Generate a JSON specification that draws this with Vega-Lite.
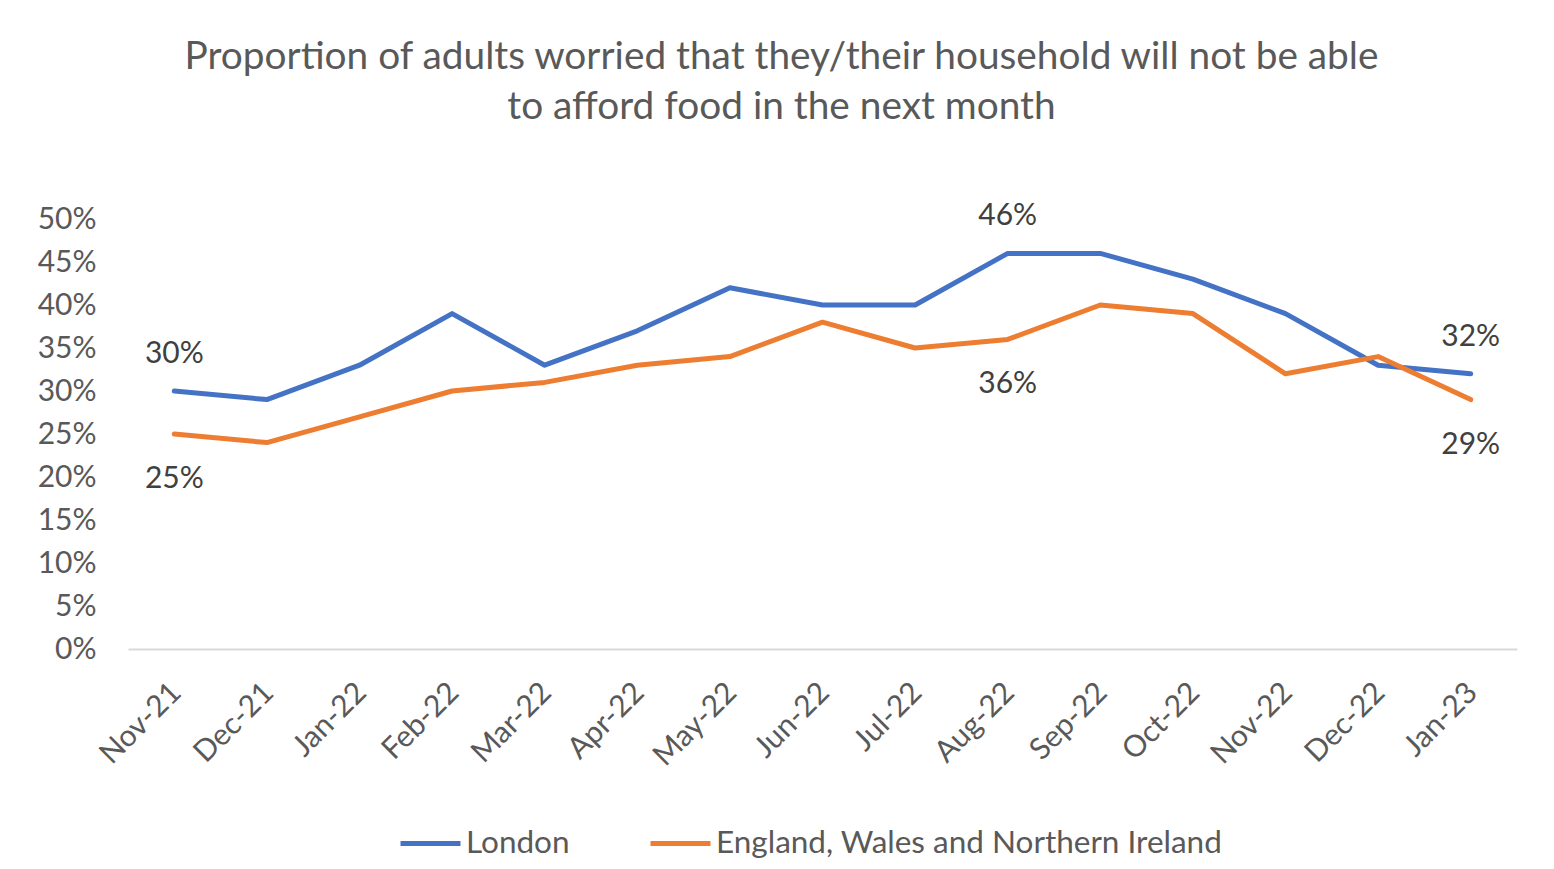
{
  "$schema": "https://vega.github.io/schema/vega-lite/v6.json",
  "autosize": {"type": "none"},
  "padding": {"left": 128, "top": 219, "right": 37, "bottom": 220},
  "width": 1389,
  "height": 430,
  "background": "white",
  "config": {
    "font": "Lato",
    "view": {"stroke": null},
    "axis": {"labelFont": "Lato", "labelColor": "#595959", "labelFontSize": 30, "grid": false, "ticks": false, "title": null}
  },
  "title": {
    "text": ["Proportion of adults worried that they/their household will not be able", "to afford food in the next month"],
    "font": "Lato",
    "fontSize": 38.8,
    "fontWeight": "normal",
    "color": "#595959",
    "lineHeight": 50,
    "anchor": "middle",
    "dx": -41,
    "offset": 75
  },
  "data": {
    "values": [
      {"month": "Nov-21", "series": "London", "value": 0.30},
      {"month": "Dec-21", "series": "London", "value": 0.29},
      {"month": "Jan-22", "series": "London", "value": 0.33},
      {"month": "Feb-22", "series": "London", "value": 0.39},
      {"month": "Mar-22", "series": "London", "value": 0.33},
      {"month": "Apr-22", "series": "London", "value": 0.37},
      {"month": "May-22", "series": "London", "value": 0.42},
      {"month": "Jun-22", "series": "London", "value": 0.40},
      {"month": "Jul-22", "series": "London", "value": 0.40},
      {"month": "Aug-22", "series": "London", "value": 0.46},
      {"month": "Sep-22", "series": "London", "value": 0.46},
      {"month": "Oct-22", "series": "London", "value": 0.43},
      {"month": "Nov-22", "series": "London", "value": 0.39},
      {"month": "Dec-22", "series": "London", "value": 0.33},
      {"month": "Jan-23", "series": "London", "value": 0.32},
      {"month": "Nov-21", "series": "England, Wales and Northern Ireland", "value": 0.25},
      {"month": "Dec-21", "series": "England, Wales and Northern Ireland", "value": 0.24},
      {"month": "Jan-22", "series": "England, Wales and Northern Ireland", "value": 0.27},
      {"month": "Feb-22", "series": "England, Wales and Northern Ireland", "value": 0.30},
      {"month": "Mar-22", "series": "England, Wales and Northern Ireland", "value": 0.31},
      {"month": "Apr-22", "series": "England, Wales and Northern Ireland", "value": 0.33},
      {"month": "May-22", "series": "England, Wales and Northern Ireland", "value": 0.34},
      {"month": "Jun-22", "series": "England, Wales and Northern Ireland", "value": 0.38},
      {"month": "Jul-22", "series": "England, Wales and Northern Ireland", "value": 0.35},
      {"month": "Aug-22", "series": "England, Wales and Northern Ireland", "value": 0.36},
      {"month": "Sep-22", "series": "England, Wales and Northern Ireland", "value": 0.40},
      {"month": "Oct-22", "series": "England, Wales and Northern Ireland", "value": 0.39},
      {"month": "Nov-22", "series": "England, Wales and Northern Ireland", "value": 0.32},
      {"month": "Dec-22", "series": "England, Wales and Northern Ireland", "value": 0.34},
      {"month": "Jan-23", "series": "England, Wales and Northern Ireland", "value": 0.29}
    ]
  },
  "encoding": {
    "x": {
      "field": "month", "type": "ordinal", "sort": null,
      "scale": {"paddingInner": 0, "paddingOuter": 0.5},
      "axis": {"labelAngle": -45, "labelPadding": 28, "labelOffset": -9, "domain": true, "domainColor": "#D9D9D9", "domainWidth": 2}
    },
    "y": {
      "field": "value", "type": "quantitative",
      "scale": {"domain": [0, 0.5], "nice": false},
      "axis": {"format": ".0%", "values": [0, 0.05, 0.1, 0.15, 0.2, 0.25, 0.3, 0.35, 0.4, 0.45, 0.5], "domain": false, "labelPadding": 32}
    }
  },
  "layer": [
    {
      "mark": {"type": "line", "strokeWidth": 5, "strokeCap": "round", "strokeJoin": "round"},
      "encoding": {
        "color": {
          "field": "series", "type": "nominal",
          "scale": {"domain": ["London", "England, Wales and Northern Ireland"], "range": ["#4472C4", "#ED7D31"]},
          "legend": {
            "orient": "none", "legendX": 270, "legendY": 592, "direction": "horizontal", "title": null,
            "symbolType": "stroke", "symbolSize": 3600, "symbolStrokeWidth": 5,
            "labelFont": "Lato", "labelFontSize": 31.5, "labelColor": "#595959",
            "labelOffset": 3, "columnPadding": 70, "labelLimit": 1000
          }
        }
      }
    },
    {
      "transform": [
        {"filter": {"field": "series", "equal": "London"}},
        {"filter": {"field": "month", "oneOf": ["Nov-21", "Aug-22", "Jan-23"]}}
      ],
      "mark": {"type": "text", "dy": -37, "fontSize": 30, "color": "#404040", "baseline": "middle", "font": "Lato"},
      "encoding": {"text": {"field": "value", "type": "quantitative", "format": ".0%"}}
    },
    {
      "transform": [
        {"filter": {"field": "series", "equal": "England, Wales and Northern Ireland"}},
        {"filter": {"field": "month", "oneOf": ["Nov-21", "Aug-22", "Jan-23"]}}
      ],
      "mark": {"type": "text", "dy": 45, "fontSize": 30, "color": "#404040", "baseline": "middle", "font": "Lato"},
      "encoding": {"text": {"field": "value", "type": "quantitative", "format": ".0%"}}
    }
  ]
}
